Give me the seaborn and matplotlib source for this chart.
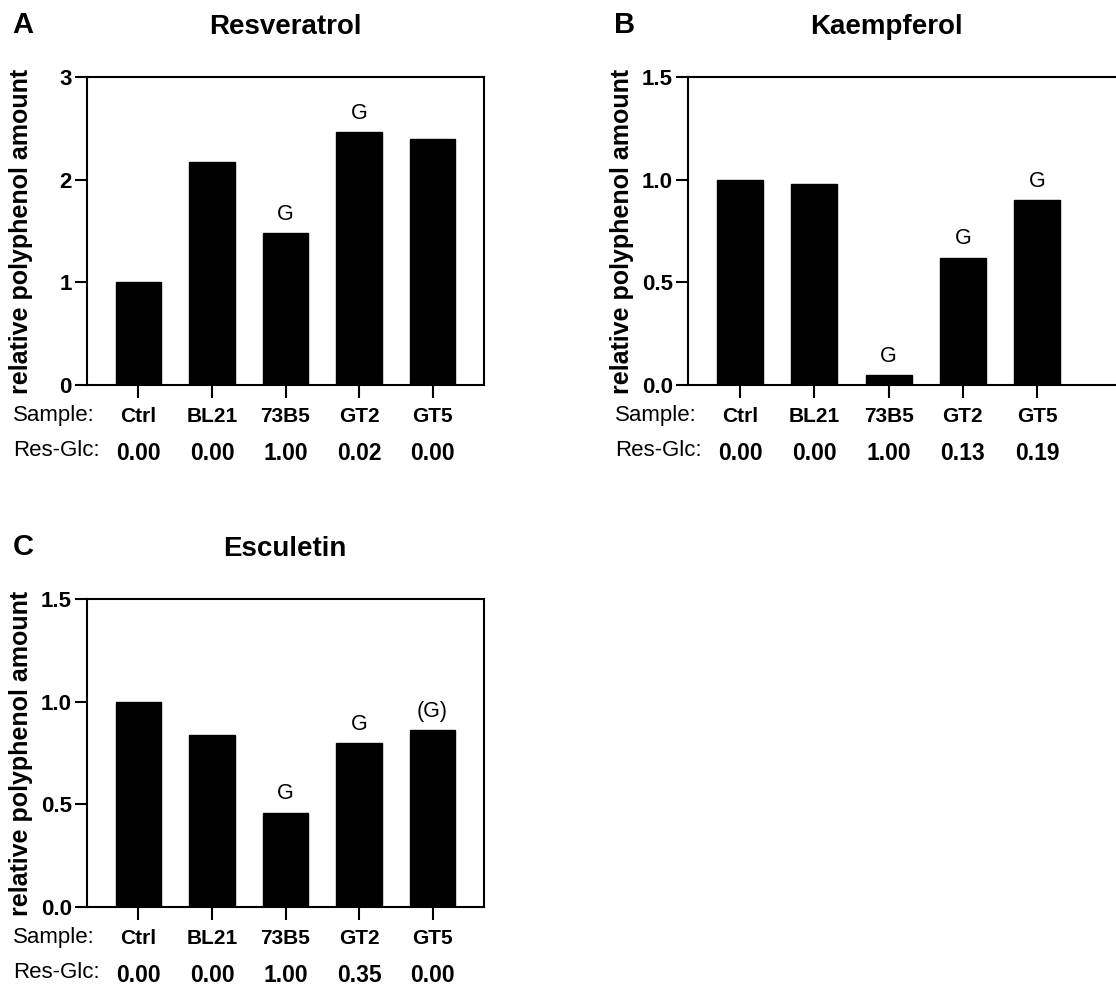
import matplotlib
matplotlib.use("Agg")
import matplotlib.pyplot as plt
import seaborn as sns

samples = ["Ctrl", "BL21", "73B5", "GT2", "GT5"]

resveratrol = [1.00, 2.17, 1.48, 2.46, 2.40]
resveratrol_glc = ["0.00", "0.00", "1.00", "0.02", "0.00"]
resveratrol_marks = ["", "", "G", "G", ""]

kaempferol = [1.00, 0.98, 0.05, 0.62, 0.90]
kaempferol_glc = ["0.00", "0.00", "1.00", "0.13", "0.19"]
kaempferol_marks = ["", "", "G", "G", "G"]

esculetin = [1.00, 0.84, 0.46, 0.80, 0.86]
esculetin_glc = ["0.00", "0.00", "1.00", "0.35", "0.00"]
esculetin_marks = ["", "", "G", "G", "(G)"]

sns.set_theme(style="ticks")
plt.rcParams["font.family"] = ["Liberation Sans", "DejaVu Sans"]
plt.rcParams["text.color"] = "black"
plt.rcParams["axes.labelcolor"] = "black"
plt.rcParams["xtick.color"] = "black"
plt.rcParams["ytick.color"] = "black"
plt.rcParams["axes.edgecolor"] = "black"

W, H = 1116, 985
fig = plt.figure(figsize=(W / 100, H / 100), dpi=100)


def px(x, y):
    """pixel coords (from top left) to figure fraction"""
    return x / W, 1 - y / H


def draw_panel(left, top, right, values, glc, marks, yticks, yfmt, title,
               letter, letter_x, label_x, xlim_right=None, right_spine=True):
    bottom = top + 308
    x0, y1 = px(left, top)
    x1, y0 = px(right, bottom)
    ax = fig.add_axes([x0, y0, x1 - x0, y1 - y0])
    sns.barplot(x=samples, y=values, color="black", width=0.62,
                saturation=1, ax=ax, edgecolor="black")
    ax.set_ylim(yticks[0], yticks[-1])
    ax.set_yticks(yticks)
    ax.set_yticklabels([yfmt.format(t) for t in yticks])
    ax.set_xlim(-0.70, 4.70 if xlim_right is None else xlim_right)
    ax.set_xticklabels([])
    ax.set_xlabel("")
    ax.set_ylabel("")
    for s in ax.spines.values():
        s.set_linewidth(1.5)
        s.set_color("black")
    ax.spines["right"].set_visible(right_spine)
    ax.tick_params(axis="both", length=9, width=1.5, color="black")
    ax.tick_params(axis="y", pad=2, labelsize=16, labelcolor="black")
    for lab in ax.get_yticklabels():
        lab.set_fontweight("bold")

    for i, (name, v, g, m) in enumerate(zip(samples, values, glc, marks)):
        ax.annotate(name, (i, 0), xycoords=("data", "axes fraction"),
                    xytext=(0, -31 * 0.72), textcoords="offset points",
                    ha="center", va="center", fontsize=15, fontweight="bold")
        ax.annotate(g, (i, 0), xycoords=("data", "axes fraction"),
                    xytext=(0, -68 * 0.72), textcoords="offset points",
                    ha="center", va="center", fontsize=16.5, fontweight="bold")
        if m:
            ax.annotate(m, (i, v), xytext=(0, 9.5), textcoords="offset points",
                        ha="center", va="baseline", fontsize=15.5)

    fig.text(*px(letter_x - 10, bottom + 31), "Sample:", ha="left",
             va="center", fontsize=16)
    fig.text(*px(letter_x - 10, bottom + 66), "Res-Glc:", ha="left",
             va="center", fontsize=16)
    fig.text(*px(label_x, top + 154), "relative polyphenol amount",
             rotation=90, ha="center", va="center", fontsize=18,
             fontweight="bold")
    fig.text(*px(left + 198, top - 50), title, ha="center", va="center",
             fontsize=20, fontweight="bold")
    fig.text(*px(letter_x, top - 52), letter, ha="center", va="center",
             fontsize=21, fontweight="bold")
    return ax


draw_panel(87, 77, 484, resveratrol, resveratrol_glc, resveratrol_marks,
           [0, 1, 2, 3], "{:g}", "Resveratrol", "A", 23, 21)
draw_panel(688, 77, 1116, kaempferol, kaempferol_glc, kaempferol_marks,
           [0.0, 0.5, 1.0, 1.5], "{:.1f}", "Kaempferol", "B", 625, 622,
           xlim_right=5.06, right_spine=False)
draw_panel(87, 599, 484, esculetin, esculetin_glc, esculetin_marks,
           [0.0, 0.5, 1.0, 1.5], "{:.1f}", "Esculetin", "C", 23, 21)

fig.savefig("out.png", dpi=100)
